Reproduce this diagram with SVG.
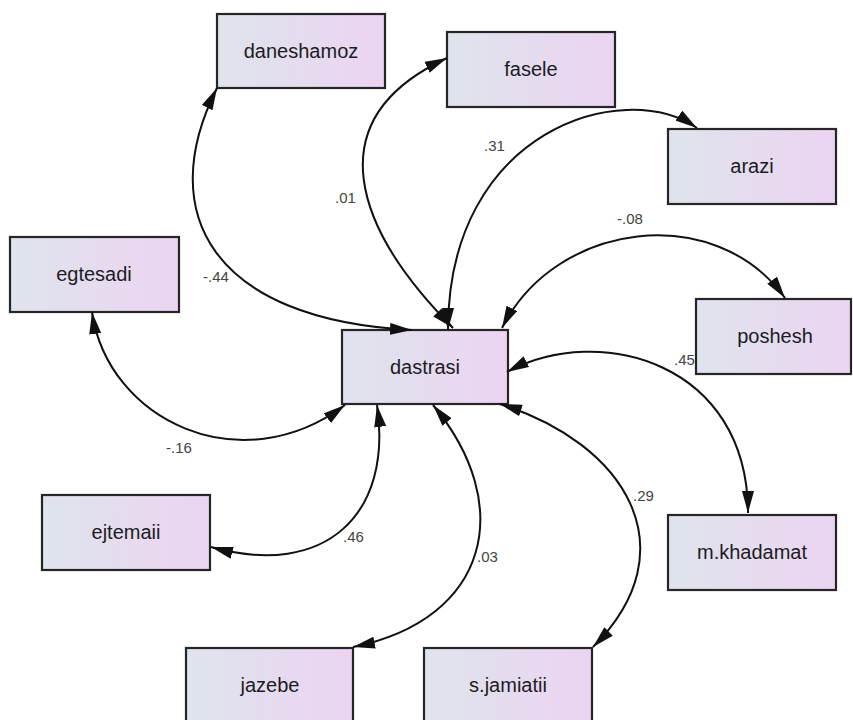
<svg xmlns="http://www.w3.org/2000/svg" width="853" height="720" viewBox="0 0 853 720">
<defs>
<linearGradient id="g" x1="0" y1="0" x2="1" y2="0">
<stop offset="0" stop-color="#dfe4ec"/>
<stop offset="1" stop-color="#ecd4f2"/>
</linearGradient>
<marker id="ah" markerUnits="userSpaceOnUse" markerWidth="22" markerHeight="12" viewBox="0 0 22 12" refX="22" refY="6" orient="auto-start-reverse">
<path d="M0,0 L22,6 L0,12 z" fill="#111"/>
</marker>
</defs>
<style>
.box{fill:url(#g);stroke:#262626;stroke-width:2.2}
.nt{font-family:"Liberation Sans",Arial,sans-serif;font-size:20px;fill:#1c1c24;text-anchor:middle}
.c{fill:none;stroke:#111;stroke-width:2;marker-start:url(#ah);marker-end:url(#ah)}
.lb{font-family:"Liberation Sans",Arial,sans-serif;font-size:15px;fill:#444}
</style>
<rect width="853" height="720" fill="#fff"/>
<g id="labels">
<text class="lb" x="335" y="203">.01</text>
<text class="lb" x="484" y="151">.31</text>
<text class="lb" x="203" y="282">-.44</text>
<text class="lb" x="617" y="224">-.08</text>
<text class="lb" x="674" y="365">.45</text>
<text class="lb" x="166" y="453">-.16</text>
<text class="lb" x="343" y="542">.46</text>
<text class="lb" x="477" y="562">.03</text>
<text class="lb" x="633" y="501">.29</text>
</g>
<g id="daneshamoz"><rect class="box" x="217" y="14" width="168" height="74"/><text class="nt" x="301" y="58">daneshamoz</text></g>
<g id="fasele"><rect class="box" x="447" y="32" width="168" height="75"/><text class="nt" x="531" y="76">fasele</text></g>
<g id="arazi"><rect class="box" x="668" y="129" width="168" height="75"/><text class="nt" x="752" y="173">arazi</text></g>
<g id="poshesh"><rect class="box" x="696" y="299" width="155" height="75"/><text class="nt" x="775" y="343">poshesh</text></g>
<g id="dastrasi"><rect class="box" x="342" y="330" width="166" height="74"/><text class="nt" x="425" y="374">dastrasi</text></g>
<g id="egtesadi"><rect class="box" x="10" y="237" width="169" height="75"/><text class="nt" x="94" y="281">egtesadi</text></g>
<g id="ejtemaii"><rect class="box" x="42" y="495" width="168" height="75"/><text class="nt" x="126" y="539">ejtemaii</text></g>
<g id="jazebe"><rect class="box" x="186" y="648" width="167" height="75"/><text class="nt" x="270" y="692">jazebe</text></g>
<g id="s.jamiatii"><rect class="box" x="424" y="648" width="168" height="75"/><text class="nt" x="508" y="692">s.jamiatii</text></g>
<g id="m.khadamat"><rect class="box" x="668" y="515" width="168" height="75"/><text class="nt" x="752" y="559">m.khadamat</text></g>
<g id="connectors">
<path class="c" d="M217,88 C154,213 212,320 412,330"/>
<path class="c" d="M447,58 C314,120 356,230 453,328"/>
<path class="c" d="M697,128 C623,77 448,130 448,330"/>
<path class="c" d="M502,328 C556,221 715,201 785,298"/>
<path class="c" d="M507,372 C600,322 748,363 748,513"/>
<path class="c" d="M500,404 C625,443 691,549 593,647"/>
<path class="c" d="M433,405 C516,505 490,619 353,647"/>
<path class="c" d="M377,405 C393,514 326,579 211,547"/>
<path class="c" d="M92,312 C108,421 241,483 345,405"/>
</g>
</svg>
